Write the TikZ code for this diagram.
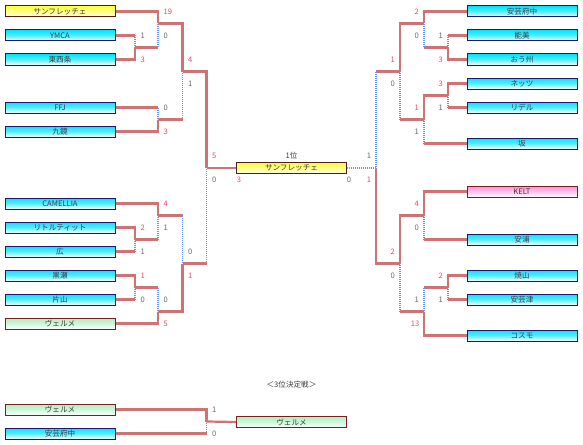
\documentclass[tikz,border=0pt]{standalone}
\usepackage{fontspec}
\setmainfont{Noto Sans CJK JP}
\definecolor{redline}{RGB}{205,115,115}
\definecolor{blueline}{RGB}{100,150,255}
\definecolor{redtxt}{RGB}{235,70,95}
\definecolor{graytxt}{RGB}{95,105,115}
\definecolor{txt}{RGB}{60,60,60}
\definecolor{navyb}{RGB}{25,25,110}
\definecolor{brownb}{RGB}{80,30,20}
\definecolor{maroonb}{RGB}{120,30,30}
\definecolor{cyantop}{RGB}{0,228,255}
\definecolor{cyanmid}{RGB}{90,235,255}
\definecolor{yeltop}{RGB}{255,255,60}
\definecolor{yelmid}{RGB}{255,255,140}
\definecolor{pinktop}{RGB}{255,140,220}
\definecolor{pinkmid}{RGB}{255,195,236}
\definecolor{greentop}{RGB}{170,240,190}
\definecolor{greenmid}{RGB}{205,247,218}
\begin{document}
\begin{tikzpicture}[x=1pt,y=-1pt,
  team/.style={draw, line width=1pt, minimum width=110pt, minimum height=11pt, inner sep=0pt,
    font=\fontsize{7.6}{8}\selectfont, text=txt},
  cyanbox/.style={team, draw=navyb, top color=cyantop, bottom color=white, middle color=cyanmid},
  yelbox/.style={team, draw=brownb, top color=yeltop, bottom color=white, middle color=yelmid},
  pinkbox/.style={team, draw=maroonb, top color=pinktop, bottom color=white, middle color=pinkmid},
  greenbox/.style={team, draw=maroonb, top color=greentop, bottom color=white, middle color=greenmid},
  win/.style={draw=redline, line width=2.2pt},
  lose/.style={draw=blueline, line width=1.3pt, dash pattern=on 1pt off 1pt},
  sc/.style={inner sep=0pt, font=\fontsize{7.6}{8}\selectfont},
  sw/.style={sc, text=redtxt},
  sl/.style={sc, text=graytxt},
  lbl/.style={inner sep=0pt, font=\fontsize{7.6}{8}\selectfont, text=txt}
]
\useasboundingbox (0,0) rectangle (583,444);
% left boxes
\node[yelbox]  (L1)  at (60,11.5)  {サンフレッチェ};
\node[cyanbox] (L2)  at (60,35.5)  {YMCA};
\node[cyanbox] (L3)  at (60,59.5)  {東西条};
\node[cyanbox] (L4)  at (60,107.5) {FFJ};
\node[cyanbox] (L5)  at (60,131.5) {九鏡};
\node[cyanbox] (L6)  at (60,203.5) {CAMELLIA};
\node[cyanbox] (L7)  at (60,227.5) {リトルティット};
\node[cyanbox] (L8)  at (60,251.5) {広};
\node[cyanbox] (L9)  at (60,275.5) {黒瀬};
\node[cyanbox] (L10) at (60,299.5) {片山};
\node[greenbox](L11) at (60,323.5) {ヴェルメ};
% right boxes
\node[cyanbox] (R1)  at (522,11.5)  {安芸府中};
\node[cyanbox] (R2)  at (522,35.5)  {能美};
\node[cyanbox] (R3)  at (522,59.5)  {おう州};
\node[cyanbox] (R4)  at (522,83.5)  {ネッツ};
\node[cyanbox] (R5)  at (522,107.5) {リデル};
\node[cyanbox] (R6)  at (522,143.5) {坂};
\node[pinkbox] (R7)  at (522,191.5) {KELT};
\node[cyanbox] (R8)  at (522,239.5) {安浦};
\node[cyanbox] (R9)  at (522,275.5) {焼山};
\node[cyanbox] (R10) at (522,299.5) {安芸津};
\node[cyanbox] (R11) at (522,335.5) {コスモ};
% final
\node[yelbox] (F) at (291.5,168) {サンフレッチェ};
\node[lbl] (F1) at (291.5,155.5) {1位};
% junctions left
\coordinate (j1) at (135,47.5);
\coordinate (j2) at (158,23.5);
\coordinate (j3) at (158,119.5);
\coordinate (j4) at (182.5,71.5);
\coordinate (j5) at (135,239.5);
\coordinate (j6) at (158,215.5);
\coordinate (j7) at (135,287.5);
\coordinate (j8) at (158,311.5);
\coordinate (j9) at (182.5,263.5);
\coordinate (j10) at (206.5,168);
% junctions right
\coordinate (k1) at (448,47.5);
\coordinate (k2) at (424,23.5);
\coordinate (k3) at (448,95.5);
\coordinate (k4) at (424,119.5);
\coordinate (k5) at (400,71.5);
\coordinate (k6) at (424,215.5);
\coordinate (k7) at (448,287.5);
\coordinate (k8) at (424,311.5);
\coordinate (k9) at (400,263.5);
\coordinate (k10) at (376,168);
% ---- left lines
\draw[win] (L1.east) -| (j2);
\draw[win] (L2.east) -- (L2.east -| j1); \draw[lose] (L2.east -| j1) -- (j1);
\draw[win] (L3.east) -| (j1);
\draw[win] (j1) -- (j1 -| j2); \draw[lose] (j1 -| j2) -- (j2);
\draw[win] (j2) -| (j4);
\draw[win] (L4.east) -- (L4.east -| j3); \draw[lose] (L4.east -| j3) -- (j3);
\draw[win] (L5.east) -| (j3);
\draw[win] (j3) -- (j3 -| j4); \draw[lose] (j3 -| j4) -- (j4);
\draw[win] (j4) -| (j10);
\draw[win] (L6.east) -| (j6);
\draw[win] (L7.east) -| (j5);
\draw[win] (L8.east) -- (L8.east -| j5); \draw[lose] (L8.east -| j5) -- (j5);
\draw[win] (j5) -- (j5 -| j6); \draw[lose] (j5 -| j6) -- (j6);
\draw[win] (j6) -- (j6 -| j9); \draw[lose] (j6 -| j9) -- (j9);
\draw[win] (L9.east) -| (j7);
\draw[win] (L10.east) -- (L10.east -| j7); \draw[lose] (L10.east -| j7) -- (j7);
\draw[win] (j7) -- (j7 -| j8); \draw[lose] (j7 -| j8) -- (j8);
\draw[win] (L11.east) -| (j8);
\draw[win] (j8) -| (j9);
\draw[win] (j9) -- (j9 -| j10); \draw[lose] (j9 -| j10) -- (j10);
\draw[win] (j10) -- (F.west);
% ---- right lines
\draw[win] (R1.west) -| (k2);
\draw[win] (R2.west) -- (R2.west -| k1); \draw[lose] (R2.west -| k1) -- (k1);
\draw[win] (R3.west) -| (k1);
\draw[win] (k1) -- (k1 -| k2); \draw[lose] (k1 -| k2) -- (k2);
\draw[win] (k2) -| (k5);
\draw[win] (R4.west) -| (k3);
\draw[win] (R5.west) -- (R5.west -| k3); \draw[lose] (R5.west -| k3) -- (k3);
\draw[win] (k3) -| (k4);
\draw[win] (R6.west) -- (R6.west -| k4); \draw[lose] (R6.west -| k4) -- (k4);
\draw[win] (k4) -- (k4 -| k5); \draw[lose] (k4 -| k5) -- (k5);
\draw[win] (k5) -- (k5 -| k10); \draw[lose] (k5 -| k10) -- (k10);
\draw[win] (R7.west) -| (k6);
\draw[win] (R8.west) -- (R8.west -| k6); \draw[lose] (R8.west -| k6) -- (k6);
\draw[win] (k6) -| (k9);
\draw[win] (R9.west) -| (k7);
\draw[win] (R10.west) -- (R10.west -| k7); \draw[lose] (R10.west -| k7) -- (k7);
\draw[win] (k7) -- (k7 -| k8); \draw[lose] (k7 -| k8) -- (k8);
\draw[win] (R11.west) -| (k8);
\draw[win] (k8) -- (k8 -| k9); \draw[lose] (k8 -| k9) -- (k9);
\draw[win] (k9) -| (k10);
\draw[lose] (k10) -- (F.east);
% ---- left scores
\node[sl,anchor=west] at (140.5,35.5) {1};
\node[sw,anchor=west] at (140.5,59.5) {3};
\node[sw,anchor=west] at (163.5,11.5) {19};
\node[sl,anchor=west] at (163.5,35.5) {0};
\node[sl,anchor=west] at (163.5,107.5) {0};
\node[sw,anchor=west] at (163.5,131.5) {3};
\node[sw,anchor=west] at (188,59.5) {4};
\node[sl,anchor=west] at (188,83.5) {1};
\node[sw,anchor=west] at (212,155.5) {5};
\node[sl,anchor=west] at (212,179.5) {0};
\node[sw,anchor=west] at (163.5,203.5) {4};
\node[sl,anchor=west] at (163.5,227.5) {1};
\node[sw,anchor=west] at (140.5,227.5) {2};
\node[sl,anchor=west] at (140.5,251.5) {1};
\node[sl,anchor=west] at (188,251.5) {0};
\node[sw,anchor=west] at (188,275.5) {1};
\node[sw,anchor=west] at (140.5,275.5) {1};
\node[sl,anchor=west] at (140.5,299.5) {0};
\node[sl,anchor=west] at (163.5,299.5) {0};
\node[sw,anchor=west] at (163.5,323.5) {5};
% final scores
\node[sw] at (239,179.5) {3};
\node[sl] at (349,179.5) {0};
\node[sw] at (369,179.5) {1};
\node[sl] at (369,155.5) {1};
% ---- right scores
\node[sw,anchor=east] at (419,11.5) {2};
\node[sl,anchor=east] at (419,35.5) {0};
\node[sl,anchor=east] at (443,35.5) {1};
\node[sw,anchor=east] at (443,59.5) {3};
\node[sw,anchor=east] at (395,59.5) {1};
\node[sl,anchor=east] at (395,83.5) {0};
\node[sw,anchor=east] at (443,83.5) {3};
\node[sl,anchor=east] at (443,107.5) {1};
\node[sw,anchor=east] at (419,107.5) {1};
\node[sl,anchor=east] at (419,131.5) {1};
\node[sw,anchor=east] at (419,203.5) {4};
\node[sl,anchor=east] at (419,227.5) {0};
\node[sw,anchor=east] at (395,251.5) {2};
\node[sl,anchor=east] at (395,275.5) {0};
\node[sw,anchor=east] at (443,275.5) {2};
\node[sl,anchor=east] at (443,299.5) {1};
\node[sl,anchor=east] at (419,299.5) {1};
\node[sw,anchor=east] at (419.5,323.5) {13};
% ---- third place
\node[lbl] (T0) at (291.5,385) {＜3位決定戦＞};
\node[greenbox] (T1) at (60,409.5) {ヴェルメ};
\node[cyanbox]  (T2) at (60,433.5) {安芸府中};
\node[greenbox] (T3) at (291.5,422) {ヴェルメ};
\coordinate (t1) at (206.5,421.5);
\draw[win] (T1.east) -| (t1);
\draw[win] (T2.east) -- (T2.east -| t1); \draw[lose] (T2.east -| t1) -- (t1);
\draw[win] (t1) -- (T3.west);
\node[sl,anchor=west] at (212,409.5) {1};
\node[sl,anchor=west] at (212,433.5) {0};
\end{tikzpicture}
\end{document}
